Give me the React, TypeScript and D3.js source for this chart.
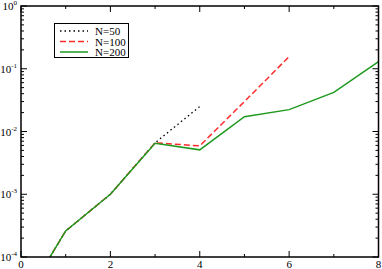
import React from 'react';
import * as d3 from 'd3';

// x values and errors
const xs50 = [0.5, 1, 2, 3, 4];
const ys50 = [6.7e-5, 2.6e-4, 1.0e-3, 6.6e-3, 2.5e-2];

const xs100 = [0.5, 1, 2, 3, 4, 5, 6];
const ys100 = [6.7e-5, 2.6e-4, 1.0e-3, 6.6e-3, 5.9e-3, 3.0e-2, 1.56e-1];

const xs200 = [0.5, 1, 2, 3, 4, 5, 6, 7, 8];
const ys200 = [6.7e-5, 2.6e-4, 1.0e-3, 6.5e-3, 5.1e-3, 1.72e-2, 2.23e-2, 4.2e-2, 1.3e-1];

const seriesNames = ['N=50', 'N=100', 'N=200'];
const xTicks = [0, 2, 4, 6, 8];
const xMinorTicks = [1, 3, 5, 7];
const yExponents = [0, -1, -2, -3, -4];

const W = 382;
const H = 269;
const margin = { left: 21, right: 3.5, top: 6, bottom: 12 };

const styles = [
  { color: '#000000', dash: '1.5,3', width: 1.3 },
  { color: '#ff2a2a', dash: '6,3', width: 1.5 },
  { color: '#1f9a1f', dash: null as string | null, width: 1.5 },
];

const App: React.FC = () => {
  const x = d3.scaleLinear().domain([0, 8]).range([margin.left, W - margin.right]);
  const y = d3.scaleLog().domain([1e-4, 1]).range([H - margin.bottom, margin.top]);

  const line = d3.line<[number, number]>()
    .x(d => x(d[0]))
    .y(d => y(d[1]));

  const series = [
    d3.zip(xs50, ys50) as [number, number][],
    d3.zip(xs100, ys100) as [number, number][],
    d3.zip(xs200, ys200) as [number, number][],
  ];

  const yMinor: number[] = [];
  for (let e = -4; e < 0; e++) {
    for (let k = 2; k <= 9; k++) yMinor.push(k * Math.pow(10, e));
  }

  const x0 = x(0), x1 = x(8), yT = y(1), yB = y(1e-4);
  const font = "'Liberation Serif', 'Times New Roman', 'DejaVu Serif', serif";

  return (
    <svg width={W} height={H} style={{ position: 'absolute', left: 0, top: 0, background: '#fff' }}>
      <defs>
        <clipPath id="plot">
          <rect x={x0} y={yT} width={x1 - x0} height={yB - yT} />
        </clipPath>
      </defs>
      <g clipPath="url(#plot)" fill="none">
        {series.map((s, i) => (
          <path key={i} d={line(s) || ''} stroke={styles[i].color}
            strokeWidth={styles[i].width}
            strokeDasharray={styles[i].dash || undefined} />
        ))}
      </g>
      {/* ticks */}
      <g stroke="#000" strokeWidth={1}>
        {xTicks.map(t => (
          <g key={'xt' + t}>
            <line x1={x(t)} x2={x(t)} y1={yB} y2={yB - 6} />
            <line x1={x(t)} x2={x(t)} y1={yT} y2={yT + 6} />
          </g>
        ))}
        {xMinorTicks.map(t => (
          <g key={'xm' + t}>
            <line x1={x(t)} x2={x(t)} y1={yB} y2={yB - 3} />
            <line x1={x(t)} x2={x(t)} y1={yT} y2={yT + 3} />
          </g>
        ))}
        {yExponents.map(e => (
          <g key={'yt' + e}>
            <line x1={x0} x2={x0 + 6} y1={y(Math.pow(10, e))} y2={y(Math.pow(10, e))} />
            <line x1={x1} x2={x1 - 6} y1={y(Math.pow(10, e))} y2={y(Math.pow(10, e))} />
          </g>
        ))}
        {yMinor.map((v, i) => (
          <g key={'ym' + i}>
            <line x1={x0} x2={x0 + 3} y1={y(v)} y2={y(v)} />
            <line x1={x1} x2={x1 - 3} y1={y(v)} y2={y(v)} />
          </g>
        ))}
      </g>
      <rect x={x0} y={yT} width={x1 - x0} height={yB - yT} fill="none" stroke="#000" strokeWidth={1.5} />
      {/* tick labels */}
      <g style={{ fontFamily: font }} fontSize={11} fill="#000">
        {xTicks.map(t => (
          <text key={'xl' + t} x={x(t)} y={yB + 11} textAnchor="middle">{t}</text>
        ))}
        {yExponents.map(e => (
          <text key={'yl' + e} x={x0 - 4} y={y(Math.pow(10, e)) + 4} textAnchor="end">
            10<tspan fontSize={7} dy={-5}>{e}</tspan>
          </text>
        ))}
      </g>
      {/* legend */}
      <g>
        <rect x={54.5} y={23.5} width={74} height={34} fill="#fff" stroke="#000" strokeWidth={1} />
        {seriesNames.map((n, i) => (
          <g key={n}>
            <line x1={60} x2={88} y1={31 + i * 10.5} y2={31 + i * 10.5}
              stroke={styles[i].color} strokeWidth={styles[i].width}
              strokeDasharray={styles[i].dash || undefined} />
            <text x={95} y={35 + i * 10.5} style={{ fontFamily: font }} fontSize={11}>{n}</text>
          </g>
        ))}
      </g>
    </svg>
  );
};

export default App;
